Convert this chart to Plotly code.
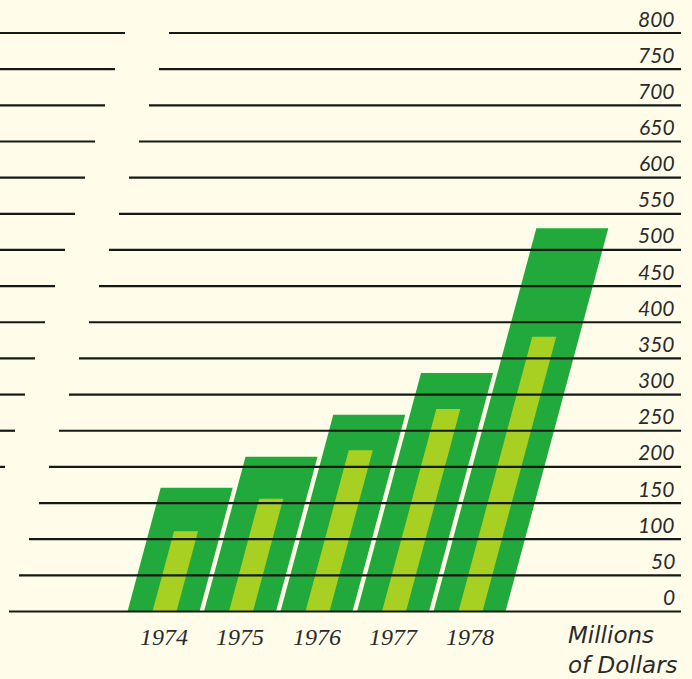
import plotly.graph_objects as go

# ---- data ----
years = ["1974", "1975", "1976", "1977", "1978"]
outer_values = [171, 214, 272, 330, 530]      # millions of dollars (dark green bars)
inner_values = [111, 156, 223, 280, 380]      # millions of dollars (light green bars)
grid_values = list(range(0, 801, 50))
tick_labels = [str(v) for v in grid_values]
unit_label = ["Millions", "of Dollars"]

# ---- style / layout constants ----
W, H = 692, 679
PX_PER_UNIT = 0.7231
ZERO_PX = 611.5
y_top = ZERO_PX / PX_PER_UNIT
y_bot = -(H - ZERO_PX) / PX_PER_UNIT

BASE0 = 163.5       # x of first bar base center
STEP = 76.5         # spacing between bars
SLANT = 0.194       # x shift per value unit for bars
OUTER_W = 72
INNER_W = 24
GRID_SLANT = 0.2
GRID_X0 = 9
GRID_GAP = 44
GRID_END = 681

BG = "#fffde9"
DARK = "#21aa3b"
LIGHT = "#a8d022"
LINE = "#161a16"

fig = go.Figure()


def para(center, width, value):
    xs = [center - width / 2, center + width / 2,
          center + width / 2 + SLANT * value, center - width / 2 + SLANT * value,
          center - width / 2]
    ys = [0, 0, value, value, 0]
    return xs, ys


for i, (yr, ov, iv) in enumerate(zip(years, outer_values, inner_values)):
    c = BASE0 + i * STEP
    xs, ys = para(c, OUTER_W, ov)
    fig.add_trace(go.Scatter(x=xs, y=ys, fill="toself", fillcolor=DARK,
                             mode="lines", line=dict(width=0, color=DARK),
                             hoverinfo="skip", showlegend=False))
    xs, ys = para(c + 1, INNER_W, iv)
    fig.add_trace(go.Scatter(x=xs, y=ys, fill="toself", fillcolor=LIGHT,
                             mode="lines", line=dict(width=0, color=LIGHT),
                             hoverinfo="skip", showlegend=False))

# gridlines with slanted gap
gx, gy = [], []
for v in grid_values:
    start = GRID_X0 + GRID_SLANT * v
    gx += [start, GRID_END, None]
    gy += [v, v, None]
    left_end = start - GRID_GAP
    if left_end > 0:
        gx += [0, left_end, None]
        gy += [v, v, None]
fig.add_trace(go.Scatter(x=gx, y=gy, mode="lines",
                         line=dict(color=LINE, width=2.2),
                         hoverinfo="skip", showlegend=False))

# value labels
for v, t in zip(grid_values, tick_labels):
    fig.add_annotation(x=677, y=v, text=f"<i>{t}</i>", showarrow=False,
                       xanchor="right", yanchor="middle", yshift=15,
                       font=dict(family="Lato", size=21, color="#2a2a2a"))

# year labels
for i, yr in enumerate(years):
    fig.add_annotation(x=BASE0 + i * STEP, y=0, text=f"<i>{yr}</i>", showarrow=False,
                       xanchor="center", yanchor="middle", yshift=-25,
                       font=dict(family="Liberation Serif", size=24, color="#2a2a2a"))

fig.add_annotation(x=566, y=0, text="<i>" + "<br>".join(unit_label) + "</i>",
                   showarrow=False, xanchor="left", yanchor="top", yshift=-8,
                   align="left",
                   font=dict(family="DejaVu Sans", size=23, color="#2a2a2a"))

fig.update_layout(
    width=W, height=H,
    margin=dict(l=0, r=0, t=0, b=0),
    paper_bgcolor=BG, plot_bgcolor=BG,
    xaxis=dict(range=[0, W], visible=False, fixedrange=True),
    yaxis=dict(range=[y_bot, y_top], visible=False, fixedrange=True),
)

fig.write_html(
    "out.html",
    config={"displayModeBar": False},
    post_script="document.body.style.margin='0';document.body.style.background='%s';"
                "document.body.style.overflow='hidden';" % BG,
)
